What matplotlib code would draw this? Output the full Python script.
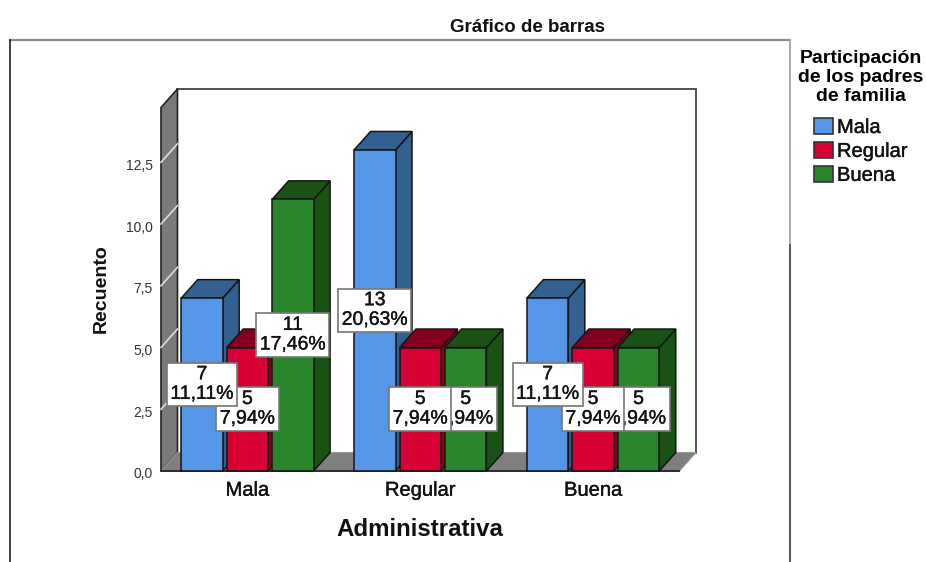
import matplotlib
matplotlib.use("Agg")
import matplotlib.pyplot as plt
import matplotlib.patheffects as pe
from matplotlib.lines import Line2D
from matplotlib.patches import Patch
from matplotlib.transforms import ScaledTranslation

plt.rcParams["font.family"] = ["Liberation Sans", "DejaVu Sans"]

categories = ["Mala", "Regular", "Buena"]
series_names = ["Mala", "Regular", "Buena"]
mala = [7, 5, 11]
regular = [13, 5, 5]
buena = [7, 5, 5]
pct_mala = ["11,11%", "7,94%", "17,46%"]
pct_regular = ["20,63%", "7,94%", "7,94%"]
pct_buena = ["11,11%", "7,94%", "7,94%"]
y_ticks = [0, 2.5, 5, 7.5, 10, 12.5]
y_tick_labels = ["0,0", "2,5", "5,0", "7,5", "10,0", "12,5"]

front = ["#5596E6", "#D60032", "#2A862A"]
dark = ["#34608F", "#85001F", "#1A5216"]
edge = "#141414"
W, H = 926, 562
thick = [pe.withStroke(linewidth=0.25, foreground="#111111")]


def fx(x):
    return x / W


def fy(y):
    return 1 - y / H


fig = plt.figure(figsize=(W / 100, H / 100), dpi=100)
ax = fig.add_axes([fx(161), fy(471), (679.5 - 161) / W, (471 - 107.5) / H])
ax.set_xlim(-0.5, 2.5)
ax.set_ylim(0, 14.72)
ax.patch.set_visible(False)
for s in ax.spines.values():
    s.set_visible(False)

# depth of the fake 3d, in data units
dx = 16.5 / 173
dy = 18.5 / 24.7
top = 14.72
xl, xr = -0.5, 2.5

ax.fill([xl + dx, xr + dx, xr + dx, xl + dx], [dy, dy, top + dy, top + dy],
        fc="white", ec="#444444", lw=1.3, clip_on=False, zorder=1)
ax.fill([xl, xl + dx, xl + dx, xl], [0, dy, top + dy, top],
        fc="#7A7A7A", ec="#222222", lw=1.2, clip_on=False, zorder=2)
ax.fill([xl, xr, xr + dx, xl + dx], [0, 0, dy, dy],
        fc="#7F7F7F", ec="#999999", lw=0.8, clip_on=False, zorder=2)
ax.plot([xl, xr], [0, 0], color="#222222", lw=1.3, clip_on=False, zorder=2)
for t in y_ticks[1:]:
    ax.plot([xl, xl + dx], [t, t + dy], color="#DDDDDD", lw=1.2, clip_on=False, zorder=3)

pitch = 45.5 / 173
width = 41.5 / 173
rows = [mala, regular, buena]
pcts = [pct_mala, pct_regular, pct_buena]
z = 4
for g, name in enumerate(categories):
    for i in range(3):
        v = rows[g][i]
        x0 = g + (i - 1) * pitch - width / 2
        x1 = x0 + width
        ax.fill([x1, x1 + dx, x1 + dx, x1], [0, dy, v + dy, v],
                fc=dark[i], ec=edge, lw=1.1, clip_on=False, zorder=z)
        ax.fill([x0, x1, x1 + dx, x0 + dx], [v, v, v + dy, v + dy],
                fc=dark[i], ec=edge, lw=1.1, clip_on=False, zorder=z)
        ax.bar(x0 + width / 2, v, width, color=front[i], edgecolor=edge, linewidth=1.1,
               clip_on=False, zorder=z)
        z += 1

# labels go green first so red and blue boxes land on top
for g in range(3):
    for i in range(3):
        v = rows[g][i]
        ax.text(g + (i - 1) * pitch, v / 2, f"{v}\n{pcts[g][i]}", ha="center", va="center",
                fontsize=14, linespacing=1.2, color="#111111", zorder=30 - i,
                path_effects=thick,
                bbox=dict(boxstyle="square,pad=0.18", fc="white", ec="#777777", lw=1.2))

ax.set_xticks(range(3))
ax.set_xticklabels(categories, fontsize=14.5, color="#111111", path_effects=thick)
ax.set_yticks(y_ticks)
ax.set_yticklabels(y_tick_labels, fontsize=10, color="#333333")
ax.tick_params(length=0)
ax.tick_params(axis="x", pad=7)
ax.tick_params(axis="y", pad=6)
for lab in ax.get_yticklabels():
    lab.set_transform(lab.get_transform() + ScaledTranslation(0, -2 / 100, fig.dpi_scale_trans))

fig.text(fx(420), fy(530), "Administrativa", fontsize=17.3, fontweight="bold",
         ha="center", va="center", color="#111111")
fig.text(fx(101), fy(289), "Recuento", fontsize=14, fontweight="bold", rotation=90,
         ha="center", va="center", color="#111111")
fig.text(fx(527), fy(27), "Gráfico de barras", fontsize=13.5, fontweight="bold",
         ha="center", va="center", color="#111111")

# outer chart frame, cut off at the bottom of the screenshot
fig.add_artist(Line2D([fx(10), fx(790)], [fy(39.5), fy(39.5)], color="#8A8A8A", lw=1.6))
fig.add_artist(Line2D([fx(10), fx(10)], [fy(39.5), fy(562)], color="#222222", lw=1.2))
fig.add_artist(Line2D([fx(790), fx(790)], [fy(39.5), fy(245)], color="#AAAAAA", lw=1.4))
fig.add_artist(Line2D([fx(790), fx(790)], [fy(245), fy(562)], color="#555555", lw=1.4))

handles = [Patch(fc=front[i], ec="#333333", lw=1.2, label=series_names[i]) for i in range(3)]
leg = fig.legend(handles=handles, loc="upper left", bbox_to_anchor=(fx(798), fy(50)),
                 title="Participación\nde los padres\nde familia", frameon=False,
                 prop={"size": 14.5}, title_fontproperties={"size": 14, "weight": "bold"},
                 handlelength=0.95, handleheight=0.9, handletextpad=0.2,
                 labelspacing=0.23, borderpad=0, borderaxespad=0, alignment="center")
leg.get_title().set_multialignment("center")
leg.get_title().set_linespacing(1.16)
leg._legend_box.sep = 9
for t in leg.get_texts():
    t.set_path_effects(thick)
    t.set_color("#111111")

fig.savefig("out.png", dpi=100)
